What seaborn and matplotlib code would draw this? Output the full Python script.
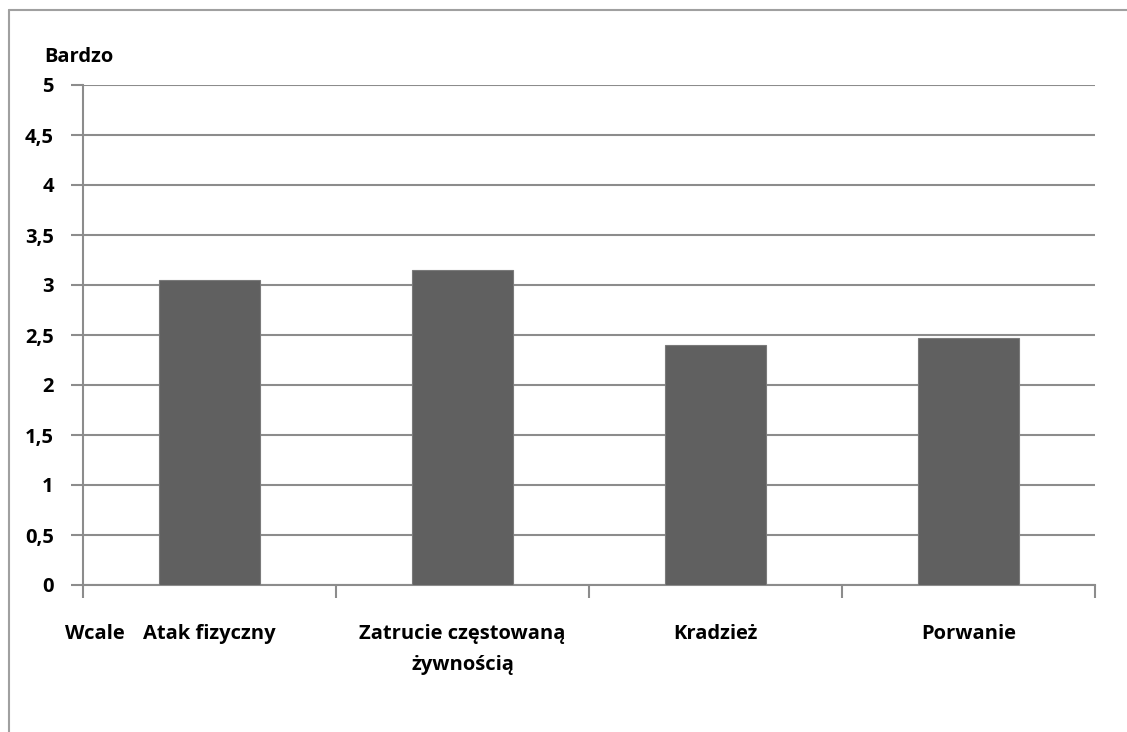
import matplotlib
matplotlib.use("Agg")
import matplotlib.pyplot as plt
from matplotlib.lines import Line2D
import seaborn as sns
import pandas as pd

# Survey results: how strongly each threat is feared (0 = "Wcale", 5 = "Bardzo")
categories = ["Atak fizyczny", "Zatrucie częstowaną\nżywnością", "Kradzież", "Porwanie"]
values = [3.05, 3.15, 2.40, 2.47]
y_ticks = [0, 0.5, 1, 1.5, 2, 2.5, 3, 3.5, 4, 4.5, 5]
y_tick_labels = ["0", "0,5", "1", "1,5", "2", "2,5", "3", "3,5", "4", "4,5", "5"]

sns.set_theme(style="white")
plt.rcParams["font.family"] = ["Open Sans", "DejaVu Sans"]
plt.rcParams["font.weight"] = "bold"
plt.rcParams["text.color"] = "black"

GRID = "#8c8c8c"
BAR = "#606060"
FS = 14.5

fig = plt.figure(figsize=(11.27, 7.32), dpi=100)
ax = fig.add_axes([83 / 1127, 1 - 585 / 732, (1095 - 83) / 1127, 500 / 732])

df = pd.DataFrame({"kategoria": categories, "wartosc": values})
sns.barplot(data=df, x="kategoria", y="wartosc", color=BAR, saturation=1,
            width=0.4, edgecolor="#7a7a7a", linewidth=0.8, ax=ax, zorder=3)

ax.set_xlim(-0.5, len(categories) - 0.5)
ax.set_ylim(0, 5)
ax.set_yticks(y_ticks)
ax.set_yticklabels(y_tick_labels, fontsize=FS, fontweight="bold", color="black")
ax.set_xlabel("")
ax.set_ylabel("")

# Horizontal gridlines behind the bars
ax.yaxis.grid(True, color=GRID, linewidth=1.5)
ax.set_axisbelow(True)

# Category labels centred under bars; tick marks on the category boundaries
ax.set_xticks(range(len(categories)))
ax.set_xticklabels(categories, fontsize=FS, fontweight="bold", color="black", linespacing=1.75)
ax.tick_params(axis="x", which="major", length=0, pad=28)
ax.set_xticks([i + 0.5 for i in range(-1, len(categories))], minor=True)
ax.tick_params(axis="x", which="minor", bottom=True, length=9, width=1.5,
               color=GRID, direction="out")
ax.tick_params(axis="y", left=True, length=9, width=1.5, color=GRID,
               direction="out", pad=12)

for side in ["top", "right"]:
    ax.spines[side].set_visible(False)
for side in ["left", "bottom"]:
    ax.spines[side].set_color(GRID)
    ax.spines[side].set_linewidth(1.5)

# Scale end descriptions
fig.text(44 / 1127, 1 - 57 / 732, "Bardzo", fontsize=FS, fontweight="bold",
         color="black", ha="left", va="center")
fig.text(125 / 1127, 1 - 634 / 732, "Wcale", fontsize=FS, fontweight="bold",
         color="black", ha="right", va="center")

# Chart area frame (left and top edges)
fig.add_artist(Line2D([8.5 / 1127, 8.5 / 1127], [0, 1 - 10 / 732], color="#a0a0a0", linewidth=1.5))
fig.add_artist(Line2D([8.5 / 1127, 1], [1 - 10 / 732, 1 - 10 / 732], color="#a0a0a0", linewidth=1.5))

fig.savefig("out.png", dpi=100, facecolor="white")
